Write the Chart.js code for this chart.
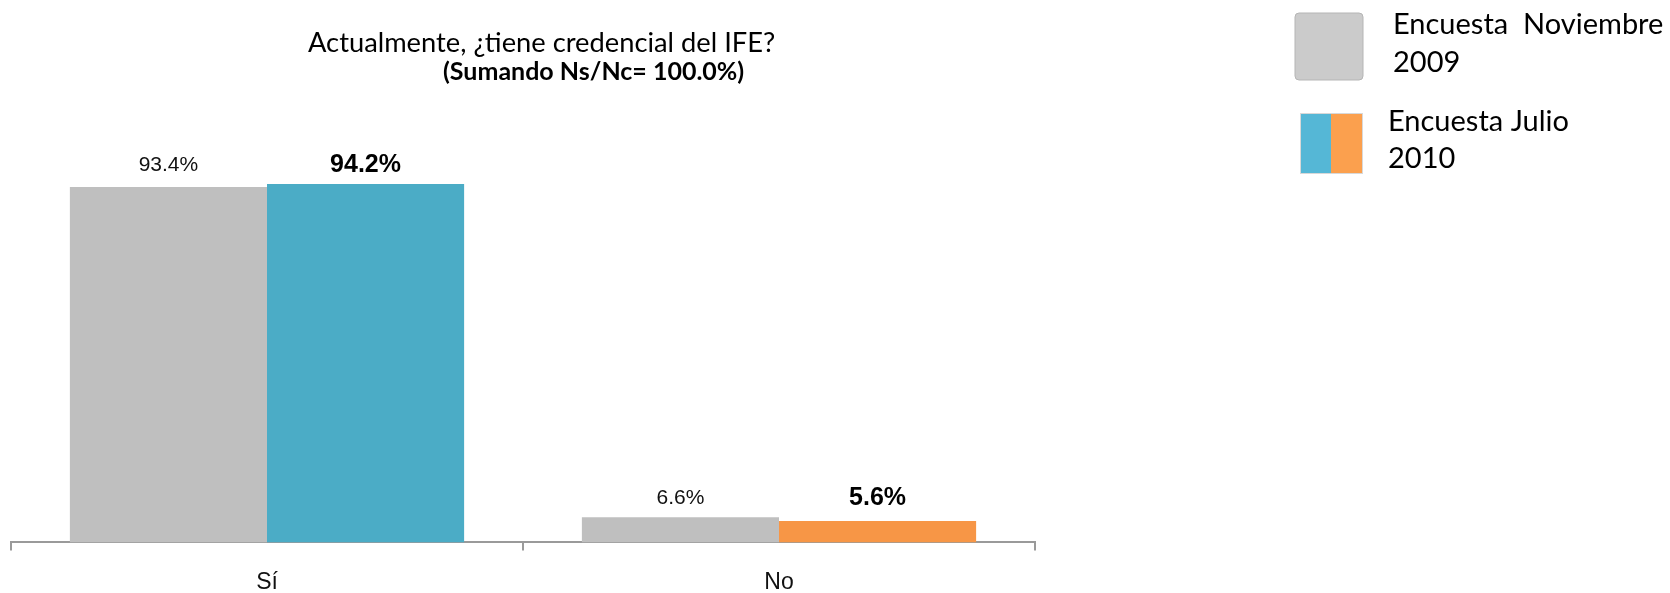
<!DOCTYPE html>
<html>
<head>
<meta charset="utf-8">
<script src="https://cdn.jsdelivr.net/npm/chart.js@4.4.0/dist/chart.umd.min.js"></script>
<style>
  html, body { margin: 0; padding: 0; background: #fff; }
  #wrap { position: relative; width: 1670px; height: 593px; }
</style>
</head>
<body>
<div id="wrap"><canvas id="c" width="1670" height="593"></canvas></div>
<script>
const categories = ['Sí', 'No'];
const nov2009 = [93.4, 6.6];
const jul2010 = [94.2, 5.6];
const seriesNames = ['Encuesta  Noviembre\n2009', 'Encuesta Julio\n2010'];
const titleLine1 = 'Actualmente, ¿tiene credencial del IFE?';
const titleLine2 = '(Sumando Ns/Nc= 100.0%)';

const GRAY = '#BFBFBF';
const BLUE = '#4BACC6';
const ORANGE = '#F79646';

const decorPlugin = {
  id: 'decor',
  afterDatasetsDraw(chart) {
    const ctx = chart.ctx;
    ctx.save();
    // value labels
    const m0 = chart.getDatasetMeta(0), m1 = chart.getDatasetMeta(1);
    for (let j = 0; j < categories.length; j++) {
      const top = Math.min(m0.data[j].y, m1.data[j].y);
      const y = top - 19;
      ctx.textAlign = 'center';
      ctx.textBaseline = 'middle';
      ctx.fillStyle = '#111';
      ctx.font = '21px "Liberation Sans", Arial, sans-serif';
      ctx.fillText(nov2009[j].toFixed(1) + '%', m0.data[j].x, y);
      ctx.font = 'bold 25px "Liberation Sans", Arial, sans-serif';
      ctx.fillStyle = '#000';
      ctx.fillText(jul2010[j].toFixed(1) + '%', m1.data[j].x, y);
    }
    // title
    ctx.textAlign = 'left';
    ctx.textBaseline = 'middle';
    ctx.fillStyle = '#000';
    ctx.font = '27.3px Lato, "Open Sans", sans-serif';
    ctx.fillText(titleLine1, 308, 43);
    ctx.font = 'bold 25px Lato, "Open Sans", sans-serif';
    ctx.fillText(titleLine2, 443, 72);
    // legend
    const r = 4;
    function rr(x, y, w, h) {
      ctx.beginPath();
      ctx.moveTo(x + r, y);
      ctx.lineTo(x + w - r, y);
      ctx.quadraticCurveTo(x + w, y, x + w, y + r);
      ctx.lineTo(x + w, y + h - r);
      ctx.quadraticCurveTo(x + w, y + h, x + w - r, y + h);
      ctx.lineTo(x + r, y + h);
      ctx.quadraticCurveTo(x, y + h, x, y + h - r);
      ctx.lineTo(x, y + r);
      ctx.quadraticCurveTo(x, y, x + r, y);
      ctx.closePath();
    }
    rr(1295, 13, 68, 67);
    ctx.fillStyle = '#CBCBCB';
    ctx.fill();
    ctx.strokeStyle = '#B5B5B5';
    ctx.lineWidth = 1;
    ctx.stroke();
    ctx.fillStyle = '#55B7D6';
    ctx.fillRect(1300, 113, 31, 61);
    ctx.fillStyle = '#FBA04E';
    ctx.fillRect(1331, 113, 32, 61);
    ctx.strokeStyle = '#D8D8D8';
    ctx.strokeRect(1300.5, 113.5, 62, 60);
    ctx.fillStyle = '#000';
    ctx.font = '29px Lato, "Open Sans", sans-serif';
    ctx.textBaseline = 'middle';
    const l0 = seriesNames[0].split('\n'), l1 = seriesNames[1].split('\n');
    ctx.fillText(l0[0], 1393, 25);
    ctx.fillText(l0[1], 1393, 63);
    ctx.fillText(l1[0], 1388, 122);
    ctx.fillText(l1[1], 1388, 159);
    ctx.restore();
  }
};

new Chart(document.getElementById('c'), {
  type: 'bar',
  data: {
    labels: categories,
    datasets: [
      { label: seriesNames[0], data: nov2009, backgroundColor: GRAY, barPercentage: 1.0, categoryPercentage: 0.77 },
      { label: seriesNames[1], data: jul2010, backgroundColor: [BLUE, ORANGE], barPercentage: 1.0, categoryPercentage: 0.77 }
    ]
  },
  options: {
    responsive: false,
    animation: false,
    layout: { padding: { left: 11, right: 635, top: 162, bottom: -21 } },
    plugins: { legend: { display: false }, title: { display: false }, tooltip: { enabled: false } },
    scales: {
      y: { display: false, min: 0, max: 100 },
      x: {
        offset: true,
        grid: { display: true, offset: true, drawOnChartArea: false, drawTicks: true, tickLength: 8, color: '#9A9A9A', lineWidth: 2 },
        border: { display: true, color: '#9A9A9A', width: 2 },
        ticks: { color: '#111', font: { family: '"Liberation Sans", Arial, sans-serif', size: 23 }, padding: 18 }
      }
    }
  },
  plugins: [decorPlugin]
});
</script>
</body>
</html>
